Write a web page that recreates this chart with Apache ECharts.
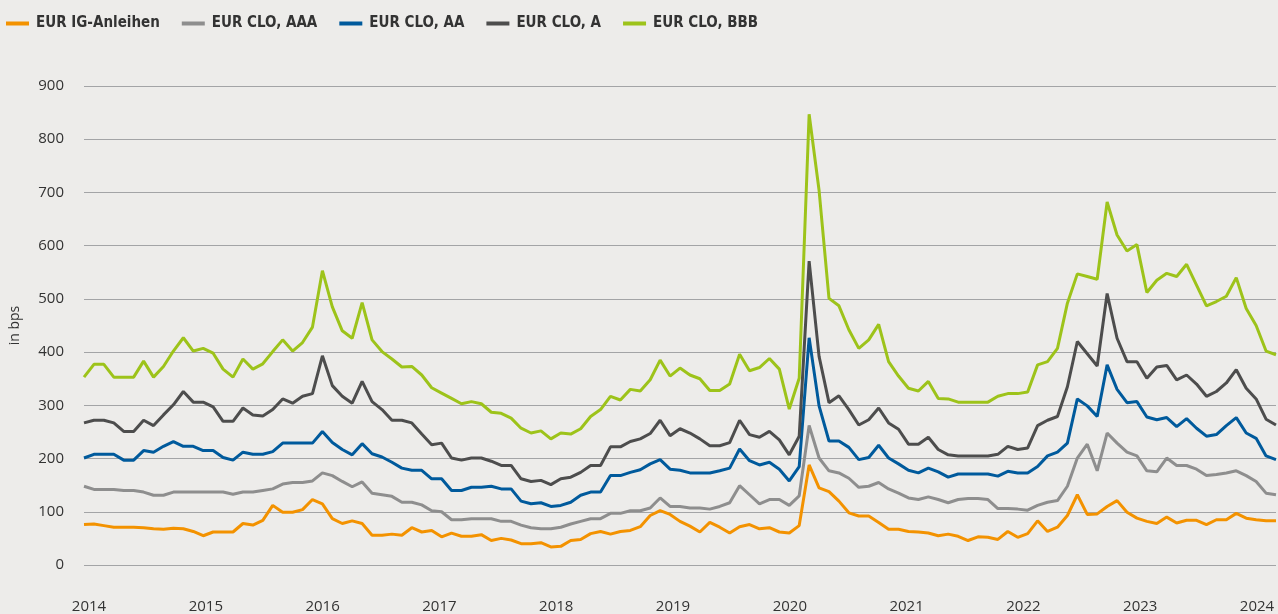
<!DOCTYPE html>
<html>
<head>
<meta charset="utf-8">
<script src="https://cdn.jsdelivr.net/npm/echarts@6/dist/echarts.min.js"></script>
<style>
html,body{margin:0;padding:0;background:#edecea;}
#chart{width:1278px;height:614px;}
</style>
</head>
<body>
<div id="chart"></div>
<script>
const months = [
"2014-01","2014-02","2014-03","2014-04","2014-05","2014-06","2014-07","2014-08","2014-09","2014-10","2014-11","2014-12",
"2015-01","2015-02","2015-03","2015-04","2015-05","2015-06","2015-07","2015-08","2015-09","2015-10","2015-11","2015-12",
"2016-01","2016-02","2016-03","2016-04","2016-05","2016-06","2016-07","2016-08","2016-09","2016-10","2016-11","2016-12",
"2017-01","2017-02","2017-03","2017-04","2017-05","2017-06","2017-07","2017-08","2017-09","2017-10","2017-11","2017-12",
"2018-01","2018-02","2018-03","2018-04","2018-05","2018-06","2018-07","2018-08","2018-09","2018-10","2018-11","2018-12",
"2019-01","2019-02","2019-03","2019-04","2019-05","2019-06","2019-07","2019-08","2019-09","2019-10","2019-11","2019-12",
"2020-01","2020-02","2020-03","2020-04","2020-05","2020-06","2020-07","2020-08","2020-09","2020-10","2020-11","2020-12",
"2021-01","2021-02","2021-03","2021-04","2021-05","2021-06","2021-07","2021-08","2021-09","2021-10","2021-11","2021-12",
"2022-01","2022-02","2022-03","2022-04","2022-05","2022-06","2022-07","2022-08","2022-09","2022-10","2022-11","2022-12",
"2023-01","2023-02","2023-03","2023-04","2023-05","2023-06","2023-07","2023-08","2023-09","2023-10","2023-11","2023-12",
"2024-01"
];

const yearTicks = [2014, 2015, 2016, 2017, 2018, 2019, 2020, 2021, 2022, 2023, 2024];

const seriesNames = ["EUR IG-Anleihen", "EUR CLO, AAA", "EUR CLO, AA", "EUR CLO, A", "EUR CLO, BBB"];

const igAnleihen = [
76,77,74,71,71,71,70,68,67,69,68,63,55,62,62,62,78,
75,84,112,99,99,104,123,115,87,78,83,78,56,56,58,56,70,
62,65,53,60,54,54,57,46,50,47,40,40,42,34,35,46,48,
59,63,58,63,65,72,93,102,95,82,73,62,80,71,60,72,76,68,
70,62,60,74,188,145,138,120,98,92,92,80,67,67,63,62,60,
55,58,54,46,53,52,48,63,52,59,83,63,71,93,132,95,96,
110,121,99,88,82,78,90,79,84,84,76,85,85,97,88,85,83,83
];

const cloAAA = [
148,142,142,142,140,140,137,131,131,137,137,137,137,137,137,133,137,
137,140,143,152,155,155,158,173,168,157,147,156,135,132,129,118,118,
113,102,100,85,85,87,87,87,82,82,75,70,68,68,71,77,82,
87,87,97,97,102,102,107,126,110,110,107,107,105,110,117,149,132,115,
123,123,112,130,262,201,177,173,163,146,148,155,143,135,126,123,128,
123,117,123,125,125,123,106,106,105,103,112,118,121,148,201,227,177,
248,229,212,205,177,175,201,187,187,180,168,170,173,177,168,157,135,132
];

const cloAA = [
201,208,208,208,197,197,215,212,223,232,223,223,215,215,202,197,212,
208,208,213,229,229,229,229,251,230,217,207,228,209,203,193,182,178,
178,162,162,140,140,146,146,148,143,143,120,115,117,110,112,118,131,
137,137,168,168,174,179,190,198,180,178,173,173,173,177,182,218,196,188,
193,180,158,185,427,299,233,233,221,198,202,225,201,190,178,173,182,
175,165,171,171,171,171,167,176,173,173,185,205,212,229,312,299,279,
376,330,305,307,278,273,277,260,275,257,242,245,262,277,248,238,205,198
];

const cloA = [
267,272,272,267,251,251,272,262,282,301,326,306,306,297,270,270,295,
282,280,292,312,304,317,322,393,337,317,304,345,307,292,272,272,267,
246,226,229,201,197,201,201,195,187,187,162,157,159,151,162,165,174,
187,187,222,222,232,237,247,272,243,256,248,237,224,224,230,272,245,240,
251,235,207,242,571,392,305,318,292,263,273,295,267,255,227,227,240,
217,207,205,205,205,205,208,223,217,220,262,272,279,335,420,397,374,
510,426,382,382,351,372,375,348,357,340,317,326,342,367,332,312,274,263
];

const cloBBB = [
353,377,377,353,353,353,383,353,373,402,427,402,407,398,368,353,387,
368,378,401,423,402,418,447,553,485,440,426,493,423,401,387,372,373,
357,333,323,313,303,307,303,287,285,276,257,248,252,237,248,246,256,
279,292,317,310,330,327,348,385,355,370,357,350,328,328,340,396,365,371,
388,368,293,351,847,704,501,487,442,407,423,452,382,355,332,327,345,
313,312,306,306,306,306,317,322,322,325,376,382,407,492,547,542,537,
682,620,590,602,512,535,548,542,565,526,487,495,505,540,482,450,402,395
];

const colors = ["#f39200", "#8e8e8e", "#005a9c", "#4d4d4d", "#9dc31a"];
const seriesData = [igAnleihen, cloAAA, cloAA, cloA, cloBBB];

const chart = echarts.init(document.getElementById('chart'), null, {renderer: 'canvas'});

const option = {
  backgroundColor: '#edecea',
  animation: false,
  color: colors,
  textStyle: { fontFamily: "'Open Sans', sans-serif", color: '#333' },
  legend: {
    left: 1,
    top: 11,
    icon: 'rect',
    itemWidth: 23,
    itemHeight: 4,
    itemGap: 22,
    data: seriesNames,
    textStyle: {
      fontFamily: "'DejaVu Sans Condensed', 'DejaVu Sans', sans-serif",
      fontWeight: 'bold',
      fontSize: 15,
      color: '#333',
      padding: [0, 0, 0, 2]
    }
  },
  grid: { left: 83, right: 2, top: 86, bottom: 48.5, containLabel: false },
  xAxis: [
    {
      type: 'category',
      data: months,
      boundaryGap: false,
      axisLine: { show: false },
      axisTick: { show: false },
      axisLabel: { show: false },
      splitLine: { show: false }
    },
    {
      type: 'value',
      position: 'bottom',
      min: 2013.957,
      max: 2024.1625,
      axisLine: { show: false },
      axisTick: { show: false },
      splitLine: { show: false },
      axisLabel: {
        customValues: yearTicks,
        margin: 34,
        fontSize: 15,
        color: '#333',
        formatter: function (v) { return String(v); }
      }
    }
  ],
  yAxis: {
    type: 'value',
    min: 0,
    max: 900,
    interval: 100,
    name: 'in bps',
    nameLocation: 'middle',
    nameRotate: 90,
    nameGap: 62,
    nameTextStyle: { fontSize: 14, color: '#333' },
    axisLine: { show: false },
    axisTick: { show: false },
    axisLabel: { margin: 20, fontSize: 15, color: '#333' },
    splitLine: { lineStyle: { color: '#a3a4a6', width: 1 } }
  },
  series: seriesNames.map(function (name, k) {
    return {
      name: name,
      type: 'line',
      xAxisIndex: 0,
      data: seriesData[k],
      symbol: 'none',
      lineStyle: { width: 3, color: colors[k] },
      itemStyle: { color: colors[k] }
    };
  })
};

chart.setOption(option);
</script>
</body>
</html>
